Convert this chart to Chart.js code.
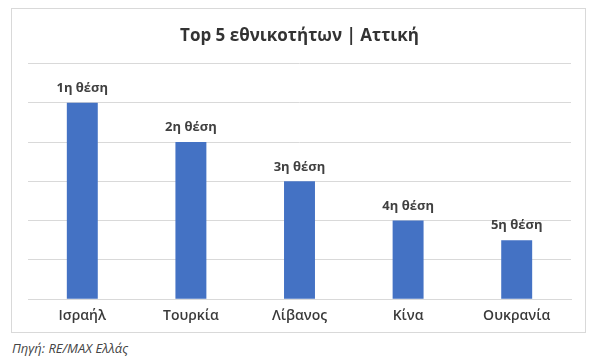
<!DOCTYPE html>
<html>
<head>
<meta charset="utf-8">
<script src="https://cdn.jsdelivr.net/npm/chart.js@4"></script>
<style>
  body { margin: 0; width: 596px; height: 362px; background: #fff; position: relative; overflow: hidden; }
  #box { position: absolute; left: 11px; top: 8px; width: 573px; height: 323px; border: 1px solid #d9d9d9; }
  #source { position: absolute; left: 12px; top: 339px; margin: 0; font-family: "Open Sans", sans-serif; font-style: italic; font-size: 13px; color: #444; }
</style>
</head>
<body>
<div id="box"><canvas id="myChart" width="573" height="323"></canvas></div>
<p id="source">Πηγή: RE/MAX Ελλάς</p>
<script>
const categories = ["Ισραήλ", "Τουρκία", "Λίβανος", "Κίνα", "Ουκρανία"];
const values = [5, 4, 3, 2, 1.5];
const rankLabels = ["1η θέση", "2η θέση", "3η θέση", "4η θέση", "5η θέση"];

const cxt = document.querySelector("#myChart");

// labels above each bar
const barLabels = {
  id: "barLabels",
  afterDatasetsDraw(chart) {
    const ctx = chart.ctx;
    const meta = chart.getDatasetMeta(0);
    ctx.save();
    ctx.font = "bold 13px 'Open Sans', sans-serif";
    ctx.fillStyle = "#404040";
    ctx.textAlign = "center";
    ctx.textBaseline = "bottom";
    meta.data.forEach((bar, i) => {
      ctx.fillText(rankLabels[i], bar.x, bar.y - 8);
    });
    ctx.restore();
  },
};

new Chart(cxt, {
  type: "bar",
  data: {
    labels: categories,
    datasets: [
      {
        data: values,
        backgroundColor: "#4472C4",
        barPercentage: 0.285,
        categoryPercentage: 1,
      },
    ],
  },
  options: {
    responsive: false,
    animation: false,
    layout: { padding: { left: 16, right: 14, top: 0, bottom: 8 } },
    plugins: {
      legend: { display: false },
      tooltip: { enabled: false },
      title: {
        display: true,
        text: "Top 5 εθνικοτήτων | Αττική",
        color: "#333",
        font: { family: "'Open Sans', sans-serif", size: 17, weight: "bold" },
        padding: { top: 17, bottom: 17 },
      },
    },
    scales: {
      y: {
        min: 0,
        max: 6,
        ticks: { display: false, stepSize: 1 },
        border: { display: false },
        grid: { color: "#d9d9d9", drawTicks: false },
      },
      x: {
        grid: { display: false },
        border: { color: "#d9d9d9" },
        ticks: {
          color: "#3a3a3a",
          padding: 0,
          font: { family: "'Open Sans', sans-serif", size: 14, weight: "600" },
        },
      },
    },
  },
  plugins: [barLabels],
});
</script>
</body>
</html>
